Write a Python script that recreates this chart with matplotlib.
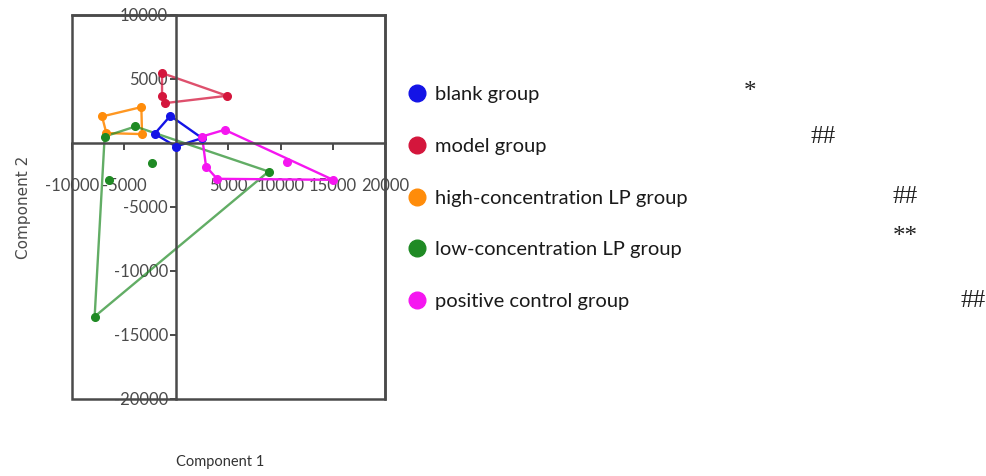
import matplotlib
matplotlib.use("Agg")
import matplotlib.pyplot as plt
from matplotlib.lines import Line2D
from matplotlib.patches import Rectangle
import numpy as np

# scores on the first two components
groups = ["blank group", "model group", "high-concentration LP group",
          "low-concentration LP group", "positive control group"]
colors = ["#1414e6", "#d4163c", "#ff8c0a", "#1f8a24", "#f516f0"]
line_alpha = [1.0, 0.75, 0.9, 0.7, 1.0]

blank_x = [-575, -2080, -29, 2464]
blank_y = [2109, 703, -289, 367]
model_x = [-1371, 4861, -1371, -1055]
model_y = [5445, 3672, 3617, 3102]
high_x = [-7124, -3356, -6711, -3289]
high_y = [2055, 2789, 758, 680]
low_x = [-3931, -6874, -2330, -6424, 8850, -7833]
low_y = [1273, 492, -1586, -2891, -2242, -13570]
pos_x = [2464, 4635, 10614, 15024, 3902, 2848]
pos_y = [492, 1016, -1461, -2891, -2813, -1852]

xs = [blank_x, model_x, high_x, low_x, pos_x]
ys = [blank_y, model_y, high_y, low_y, pos_y]

marks = ["*", "##", "##", "**", "##"]

x_ticks = [-10000, -5000, 5000, 10000, 15000, 20000]
y_ticks = [-20000, -15000, -10000, -5000, 5000, 10000]

narrow = ["Lato", "DejaVu Sans"]
gray = "#4a4a4a"


def hull(px, py):
    pts = sorted(set(zip(px, py)))
    def cross(o, a, b):
        return (a[0]-o[0])*(b[1]-o[1]) - (a[1]-o[1])*(b[0]-o[0])
    lower = []
    for p in pts:
        while len(lower) >= 2 and cross(lower[-2], lower[-1], p) <= 0:
            lower.pop()
        lower.append(p)
    upper = []
    for p in reversed(pts):
        while len(upper) >= 2 and cross(upper[-2], upper[-1], p) <= 0:
            upper.pop()
        upper.append(p)
    h = lower[:-1] + upper[:-1]
    h.append(h[0])
    return [p[0] for p in h], [p[1] for p in h]


fig = plt.figure(figsize=(9.87, 4.76), dpi=100)
ax = fig.add_axes([0.073, 0.162, 0.317, 0.807])

for x, y, c, a in zip(xs, ys, colors, line_alpha):
    hx, hy = hull(x, y)
    ax.plot(hx, hy, color=c, lw=1.7, alpha=a, zorder=2)
    ax.plot(x, y, 'o', color=c, ms=5.5, zorder=3)

ax.set_xlim(-10000, 20000)
ax.set_ylim(-20000, 10000)

ax.spines['left'].set_position(('data', 0))
ax.spines['bottom'].set_position(('data', 0))
for s in ax.spines.values():
    s.set_color(gray)
    s.set_linewidth(1.8)
ax.add_patch(Rectangle((0, 0), 1, 1, transform=ax.transAxes, fill=False,
                       ec=gray, lw=1.8, clip_on=False, zorder=1))

ax.set_xticks(x_ticks)
ax.set_yticks(y_ticks)
ax.set_xticklabels([str(t) for t in x_ticks])
ax.set_yticklabels([str(t) for t in y_ticks])
ax.tick_params(axis='x', direction='out', length=5, width=1.4, color=gray,
               pad=20, labelsize=12, labelcolor=gray)
ax.tick_params(axis='y', direction='out', length=4, width=1.4, color=gray,
               pad=2, labelsize=12, labelcolor=gray)
for lab in ax.get_xticklabels() + ax.get_yticklabels():
    lab.set_family(narrow)

fig.text(0.024, 0.565, "Component 2", rotation=90, ha='center', va='center',
         fontsize=11, color=gray, family=["DejaVu Sans"])
fig.text(0.223, 0.03, "Component 1", ha='center', va='center',
         fontsize=10.5, color="#333333", family=narrow)

handles = [Line2D([], [], ls='none', marker='o', ms=12, color=c) for c in colors]
leg = fig.legend(handles, groups, loc='upper left', bbox_to_anchor=(0.405, 0.836),
                 frameon=False, labelspacing=1.72, handlelength=0.9,
                 handletextpad=0.45, borderaxespad=0,
                 prop={'family': narrow, 'size': 14.5})
for t in leg.get_texts():
    t.set_color("#1a1a1a")

mark_x = [750, 823, 905, 905, 973]
mark_y = [92, 137, 197, 237, 301]
for m, mx, my in zip(marks, mark_x, mark_y):
    fig.text(mx / 987, 1 - my / 476, m, ha='center', va='center', fontsize=18,
             family=["Liberation Serif", "DejaVu Serif"], color="#222222")

fig.savefig("out.png", dpi=100)
